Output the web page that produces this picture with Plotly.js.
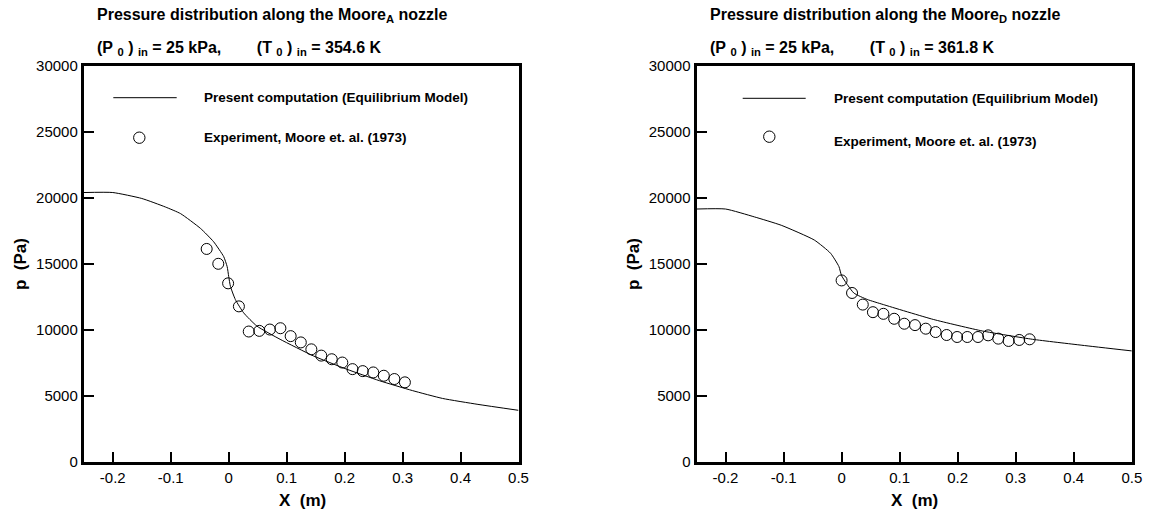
<!DOCTYPE html>
<html>
<head>
<meta charset="utf-8">
<script src="https://cdn.plot.ly/plotly-3.0.1.min.js"></script>
<style>html,body{margin:0;padding:0;background:#fff;}#chart{width:1151px;height:518px;}</style>
</head>
<body>
<div id="chart"></div>
<script>
// ---- Data ----
// Moore A nozzle: (P0)in = 25 kPa, (T0)in = 354.6 K
const computedA_x = [-0.25, -0.2, -0.15, -0.109, -0.083, -0.0485, -0.026, -0.0086, -0.0027, 0, 0.003, 0.0115, 0.0257, 0.0487, 0.0887, 0.146, 0.203, 0.26, 0.317, 0.369, 0.43, 0.5];
const computedA_p = [20400, 20400, 19950, 19300, 18800, 17675, 16670, 15540, 14790, 14040, 13285, 12290, 11290, 10280, 9280, 8025, 7025, 6145, 5395, 4800, 4350, 3900];
const expA_x = [-0.038, -0.018, -0.001, 0.0176, 0.0346, 0.0528, 0.071, 0.0892, 0.1069, 0.1244, 0.1426, 0.1597, 0.1778, 0.196, 0.2136, 0.2313, 0.2494, 0.2676, 0.2858, 0.304];
const expA_p = [16125, 15000, 13520, 11775, 9870, 9920, 10020, 10120, 9520, 9045, 8520, 8045, 7770, 7520, 7020, 6870, 6770, 6520, 6270, 6020];

// Moore D nozzle: (P0)in = 25 kPa, (T0)in = 361.8 K
const computedD_x = [-0.25, -0.2, -0.15, -0.104, -0.047, -0.019, -0.0046, 0, 0.021, 0.044, 0.072, 0.158, 0.243, 0.329, 0.414, 0.5];
const computedD_p = [19150, 19150, 18550, 17920, 16800, 15800, 14790, 14100, 12790, 12300, 11910, 10785, 9905, 9280, 8830, 8400];
const expD_x = [0, 0.018, 0.0365, 0.054, 0.072, 0.0906, 0.108, 0.1265, 0.145, 0.162, 0.181, 0.199, 0.2165, 0.235, 0.2525, 0.27, 0.2877, 0.306, 0.324];
const expD_p = [13740, 12790, 11910, 11335, 11210, 10835, 10460, 10355, 10085, 9830, 9605, 9455, 9455, 9455, 9580, 9330, 9155, 9230, 9280];

// Tick labels
const xTickVals = [-0.2, -0.1, 0, 0.1, 0.2, 0.3, 0.4, 0.5];
const xTickText = ["-0.2", "-0.1", "0", "0.1", "0.2", "0.3", "0.4", "0.5"];
const yTickVals = [0, 5000, 10000, 15000, 20000, 25000, 30000];
const yTickText = ["0", "5000", "10000", "15000", "20000", "25000", "30000"];

// Texts
const NB = "\u00A0";
const titleA = "Pressure distribution along the Moore<sub>A</sub> nozzle";
const titleD = "Pressure distribution along the Moore<sub>D</sub> nozzle";
const condA = "(P" + NB + "<sub>0</sub>" + NB + ")" + NB + "<sub>in</sub>" + NB + "= 25 kPa," + NB.repeat(8) + "(T" + NB + "<sub>0</sub>" + NB + ")" + NB + "<sub>in</sub>" + NB + "= 354.6 K";
const condD = "(P" + NB + "<sub>0</sub>" + NB + ")" + NB + "<sub>in</sub>" + NB + "= 25 kPa," + NB.repeat(8) + "(T" + NB + "<sub>0</sub>" + NB + ")" + NB + "<sub>in</sub>" + NB + "= 361.8 K";
const legendLine = "Present computation (Equilibrium Model)";
const legendExp = "Experiment, Moore et. al. (1973)";
const xTitle = "X" + NB + NB + "(m)";
const yTitle = "p" + NB + NB + "(Pa)";

// ---- Plot ----
const W = 1151, H = 518;
const FONT = "Liberation Sans, Arial, Helvetica, sans-serif";
const px = v => v / W;
const py = v => (H - v) / H;

const lineStyle = {color: "black", width: 1, shape: "spline", smoothing: 0.5};
const markerStyle = {symbol: "circle-open", size: 11, color: "black", line: {color: "black", width: 1}};

const traces = [
  {x: computedA_x, y: computedA_p, xaxis: "x", yaxis: "y", mode: "lines", line: lineStyle, name: legendLine, showlegend: false},
  {x: expA_x, y: expA_p, xaxis: "x", yaxis: "y", mode: "markers", marker: markerStyle, name: legendExp, showlegend: false},
  {x: computedD_x, y: computedD_p, xaxis: "x2", yaxis: "y2", mode: "lines", line: lineStyle, name: legendLine, showlegend: false},
  {x: expD_x, y: expD_p, xaxis: "x2", yaxis: "y2", mode: "markers", marker: markerStyle, name: legendExp, showlegend: false}
];

function xAxis(domain, anchor) {
  return {
    domain: domain, anchor: anchor, range: [-0.25, 0.5],
    tickmode: "array", tickvals: xTickVals, ticktext: xTickText,
    ticks: "inside", ticklen: 10, tickwidth: 2, tickcolor: "black",
    showline: true, linewidth: 3, linecolor: "black", mirror: true,
    showgrid: false, zeroline: false,
    tickfont: {family: FONT, size: 15, color: "black"}
  };
}
function yAxis(domain, anchor) {
  return {
    domain: domain, anchor: anchor, range: [0, 30000],
    tickmode: "array", tickvals: yTickVals, ticktext: yTickText,
    ticks: "inside", ticklen: 10, tickwidth: 2, tickcolor: "black",
    showline: true, linewidth: 3, linecolor: "black", mirror: true,
    showgrid: false, zeroline: false,
    tickfont: {family: FONT, size: 15, color: "black"}
  };
}

const yDom = [56.2 / H, (H - 65.8) / H];
const bold = (size) => ({family: FONT, size: size, color: "black", weight: "bold"});

function ann(text, x, y, size, extra) {
  return Object.assign({text: text, xref: "paper", yref: "paper", x: px(x), y: py(y),
    xanchor: "left", yanchor: "middle", showarrow: false, font: bold(size)}, extra || {});
}

const annotations = [];
const shapes = [];
// [title, conditions, title x, legend text x, legend row1 y, legend row2 y, y-title x, x-title x]
[[titleA, condA, 95, 201.7, 97.7, 137.2, 20, 302],
 [titleD, condD, 708.3, 832.3, 98.3, 141.5, 633, 914]].forEach(t => {
  annotations.push(ann(t[0], t[2], 15, 16));
  annotations.push(ann(t[1], t[2], 48, 16));
  annotations.push(ann(legendLine, t[3], t[4], 13.5));
  annotations.push(ann(legendExp, t[3], t[5], 13.5));
  annotations.push(ann(yTitle, t[6], 264, 17, {xanchor: "center", textangle: -90}));
  annotations.push(ann(xTitle, t[7], 500, 17, {xanchor: "center"}));
});
// legend symbols
[[113.3, 176.7, 97.7, 139.3, 137.7], [742.7, 805.7, 98.3, 769.3, 136.7]].forEach(s => {
  shapes.push({type: "line", xref: "paper", yref: "paper", x0: px(s[0]), x1: px(s[1]), y0: py(s[2]), y1: py(s[2]), line: {color: "black", width: 1}});
  shapes.push({type: "circle", xref: "paper", yref: "paper", x0: px(s[3] - 5.7), x1: px(s[3] + 5.7), y0: py(s[4] + 5.7), y1: py(s[4] - 5.7), line: {color: "black", width: 1}});
});

const layout = {
  width: W, height: H,
  margin: {l: 0, r: 0, t: 0, b: 0},
  paper_bgcolor: "white", plot_bgcolor: "white",
  showlegend: false,
  font: {family: FONT, color: "black"},
  xaxis: xAxis([83.8 / W, 518.5 / W], "y"),
  yaxis: yAxis(yDom, "x"),
  xaxis2: xAxis([696.5 / W, 1131.8 / W], "y2"),
  yaxis2: yAxis(yDom, "x2"),
  annotations: annotations,
  shapes: shapes
};

Plotly.newPlot("chart", traces, layout, {staticPlot: true, displayModeBar: false});
</script>
</body>
</html>
